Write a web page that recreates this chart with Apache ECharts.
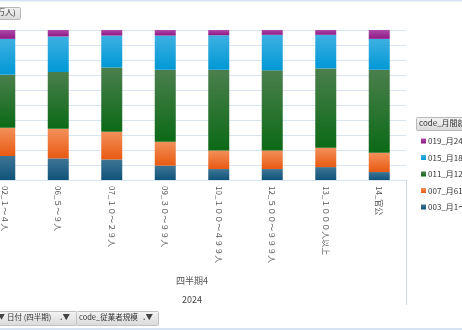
<!DOCTYPE html>
<html>
<head>
<meta charset="utf-8">
<script src="https://cdn.jsdelivr.net/npm/echarts@6/dist/echarts.min.js"></script>
<style>
  html, body { margin: 0; padding: 0; background: #fff; overflow: hidden; width: 462px; height: 330px; }
  /* the plot starts left of the window, so the canvas is shifted 22px left */
  #chart { position: absolute; left: -22px; top: 0; width: 484px; height: 330px; }
</style>
</head>
<body>
<div id="chart"></div>
<script>
// categories (従業者規模) and share of each working-hours band, in %
const sizes = ['02_１～４人', '06_５～９人', '07_１０～２９人', '09_３０～９９人',
  '10_１００～４９９人', '12_５００～９９９人', '13_１０００人以上', '14_官公'];
const quarter = ['四半期4'];
const year = ['2024'];

const h003 = [16.0, 14.4, 13.7, 9.6, 7.3, 7.3, 8.6, 5.3];
const h007 = [18.8, 19.7, 18.4, 15.9, 12.4, 12.4, 12.9, 12.9];
const h011 = [35.4, 37.9, 42.9, 48.0, 53.8, 53.4, 52.9, 55.3];
const h015 = [23.9, 23.7, 21.3, 22.8, 23.0, 23.7, 22.4, 20.6];
const h019 = [5.9, 4.3, 3.7, 3.7, 3.5, 3.2, 3.2, 5.9];

const seriesNames = ['003_月1～60時間', '007_月61～120時間', '011_月121～180時間',
  '015_月181～240時間', '019_月241時間以上'];

const font = '"Noto Sans CJK JP", "Noto Sans", sans-serif';
const dx = 22; // canvas offset

function grad(top, bottom) {
  return new echarts.graphic.LinearGradient(0, 0, 0, 1, [
    { offset: 0, color: top },
    { offset: 1, color: bottom }
  ]);
}

const colors = [
  ['#3f7596', '#0f5379'],
  ['#f3905a', '#e85a12'],
  ['#4b7f4d', '#0b6a16'],
  ['#3eb0e2', '#0098d5'],
  ['#ac4aa8', '#901886']
];
const legendColors = ['#1a5b80', '#ee6a22', '#1d7226', '#11a2dc', '#9b2196'];

const values = [h003, h007, h011, h015, h019];

const chart = echarts.init(document.getElementById('chart'));

const btnFill = grad('#f4f4f4', '#d9d9d9');

chart.setOption({
  animation: false,
  textStyle: { fontFamily: font },
  grid: { left: 0, right: 56, top: 30, bottom: 150 },
  legend: {
    orient: 'vertical',
    left: 416 + dx,
    top: 131,
    icon: 'rect',
    itemWidth: 5,
    itemHeight: 5,
    itemGap: 6.5,
    data: seriesNames.slice().reverse(),
    textStyle: { fontSize: 8, color: '#333', lineHeight: 10, fontFamily: font, padding: [0, 0, 0, -3] }
  },
  xAxis: [
    {
      type: 'category',
      data: sizes,
      axisLine: { show: false },
      axisTick: { show: false },
      axisLabel: { rotate: -90, fontSize: 8, color: '#555', margin: 6, fontFamily: font }
    },
    {
      type: 'category',
      data: quarter,
      position: 'bottom',
      axisLine: { show: false },
      axisTick: { show: false },
      axisLabel: { fontSize: 9, color: '#555', margin: 96, fontFamily: font }
    },
    {
      type: 'category',
      data: year,
      position: 'bottom',
      axisLine: { show: false },
      axisTick: { show: true, length: 125, lineStyle: { color: '#c9d8ea', width: 1 } },
      axisLabel: { fontSize: 9, color: '#444', margin: 115, fontFamily: font }
    }
  ],
  yAxis: {
    type: 'value',
    min: 0,
    max: 100,
    interval: 10,
    axisLabel: { show: false },
    axisLine: { show: false },
    axisTick: { show: false },
    splitLine: { lineStyle: { color: '#d9e4f1', width: 1 } }
  },
  series: seriesNames.map((name, i) => ({
    name,
    type: 'bar',
    stack: 'share',
    barWidth: 21,
    data: values[i],
    itemStyle: { color: grad(colors[i][0], colors[i][1]), borderWidth: 0 },
    color: legendColors[i]
  })),
  graphic: [
    // top and bottom frame lines
    { type: 'rect', left: dx, top: 0, shape: { width: 462, height: 1.5 }, style: { fill: '#d6e3f2' } },
    { type: 'rect', left: dx, top: 328, shape: { width: 462, height: 2 }, style: { fill: '#d6e3f2' } },
    // value field button (top left)
    { type: 'rect', left: dx - 6, top: 7, shape: { width: 26, height: 12, r: 1 },
      style: { fill: btnFill, stroke: '#b8b8b8', lineWidth: 1 } },
    { type: 'text', left: dx - 3, top: 8, style: { text: '万人)', font: '8px ' + font, fill: '#333' } },
    // legend field button
    { type: 'rect', left: dx + 416, top: 117, shape: { width: 52, height: 13, r: 1 },
      style: { fill: btnFill, stroke: '#b8b8b8', lineWidth: 1 } },
    { type: 'text', left: dx + 419, top: 119, style: { text: 'code_月間就労時間', font: '8px ' + font, fill: '#333' } },
    // axis field buttons (bottom)
    { type: 'rect', left: dx - 4, top: 311, shape: { width: 80, height: 14, r: 1 },
      style: { fill: btnFill, stroke: '#c2c2c2', lineWidth: 1 } },
    { type: 'rect', left: dx + 76, top: 311, shape: { width: 82, height: 14, r: 1 },
      style: { fill: btnFill, stroke: '#c2c2c2', lineWidth: 1 } },
    { type: 'text', left: dx - 2, top: 313, style: { text: '▼', font: '7px ' + font, fill: '#444' } },
    { type: 'text', left: dx + 7, top: 313, style: { text: '日付 (四半期)', font: '7.5px ' + font, fill: '#333' } },
    { type: 'text', left: dx + 60, top: 313, style: { text: '.▼', font: 'bold 7.5px ' + font, fill: '#444' } },
    { type: 'text', left: dx + 79, top: 313, style: { text: 'code_従業者規模', font: '7.5px ' + font, fill: '#333' } },
    { type: 'text', left: dx + 143, top: 313, style: { text: '.▼', font: 'bold 7.5px ' + font, fill: '#444' } }
  ]
});
</script>
</body>
</html>
